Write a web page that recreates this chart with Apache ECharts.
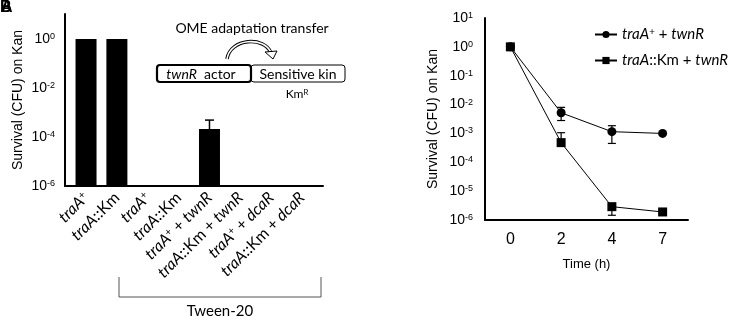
<!DOCTYPE html>
<html>
<head>
<meta charset="utf-8">
<script src="https://cdn.jsdelivr.net/npm/echarts@6/dist/echarts.min.js"></script>
<style>
html, body { margin: 0; background: #fff; }
#main { width: 736px; height: 318px; }
</style>
</head>
<body>
<div id="main"></div>
<script>
// left panel: survival of each strain (CFU on Kan)
var strains = ['traA+', 'traA::Km', 'traA+', 'traA::Km', 'traA+ + twnR', 'traA::Km + twnR', 'traA+ + dcaR', 'traA::Km + dcaR'];
var strainSurvival = [1, 1, 1e-6, 1e-6, 2.1e-4, 1e-6, 1e-6, 1e-6];
var strainErrHigh = [null, null, null, null, 4.9e-4, null, null, null];

// right panel: survival over time
var hours = ['0', '2', '4', '7'];
var wtName = 'traA+ + twnR';
var wtSurvival = [1, 5.2e-3, 1.15e-3, 1.0e-3];
var wtErrLow = [null, 2.8e-3, 4.5e-4, null];
var wtErrHigh = [null, 8.0e-3, 1.85e-3, null];
var kmName = 'traA::Km + twnR';
var kmSurvival = [1, 4.8e-4, 2.9e-6, 1.9e-6];
var kmErrLow = [null, null, 1.46e-6, null];
var kmErrHigh = [null, 1.06e-3, null, null];

var numFont = '"Liberation Sans", Arial, sans-serif';
var textFont = 'Lato, "Open Sans", sans-serif';

// italic gene names, superscript +
function richLabel(s) {
    return s.split(/(traA\+|traA|twnR|dcaR)/).filter(Boolean).map(function (p) {
        if (p === 'traA+') return '{i|traA}{s|+}';
        if (p === 'traA' || p === 'twnR' || p === 'dcaR') return '{i|' + p + '}';
        return '{n|' + p + '}';
    }).join('');
}
function labelRich(size) {
    return {
        i: { fontStyle: 'italic', fontSize: size, fontFamily: textFont, color: '#000' },
        n: { fontSize: size, fontFamily: textFont, color: '#000' },
        s: { fontSize: size * 0.65, fontFamily: textFont, color: '#000', verticalAlign: 'top', lineHeight: size * 0.7 }
    };
}
function powerLabel(value) {
    var e = Math.log10(value);
    if (Math.abs(e - Math.round(e)) > 0.01) return '';
    return '{b|10}{s|' + Math.round(e) + '}';
}
var powerRich = {
    b: { fontSize: 14, fontFamily: numFont, color: '#000' },
    s: { fontSize: 9, fontFamily: numFont, color: '#000', verticalAlign: 'top', lineHeight: 9 }
};

function errorData(values, low, high) {
    var out = [];
    values.forEach(function (v, i) {
        if (low[i] == null && high[i] == null) return;
        out.push([i, v, low[i] == null ? v : low[i], high[i] == null ? v : high[i]]);
    });
    return out;
}
function errorBar(capWidth, lw) {
    return function (params, api) {
        var v = api.value(1), lo = api.value(2), hi = api.value(3);
        var p = api.coord([api.value(0), v]);
        var pl = api.coord([api.value(0), lo]);
        var ph = api.coord([api.value(0), hi]);
        var st = { stroke: '#000', lineWidth: lw };
        var kids = [{ type: 'line', shape: { x1: p[0], y1: pl[1], x2: p[0], y2: ph[1] }, style: st }];
        if (hi !== v) kids.push({ type: 'line', shape: { x1: p[0] - capWidth / 2, y1: ph[1], x2: p[0] + capWidth / 2, y2: ph[1] }, style: st });
        if (lo !== v) kids.push({ type: 'line', shape: { x1: p[0] - capWidth / 2, y1: pl[1], x2: p[0] + capWidth / 2, y2: pl[1] }, style: st });
        return { type: 'group', children: kids };
    };
}

var axisLine = { show: true, lineStyle: { color: '#000', width: 2 } };

var chart = echarts.init(document.getElementById('main'));
chart.setOption({
    animation: false,
    grid: [
        // frame of the bar panel (axis lines run to 10^1)
        { left: 65, top: 14, width: 258, height: 172 },
        // bars, 10^0 .. 10^-6
        { left: 70.6, top: 39, width: 246.9, height: 147 },
        { left: 485, top: 18, width: 203, height: 202 }
    ],
    xAxis: [
        { gridIndex: 0, type: 'value', min: 0, max: 1, axisLine: axisLine, axisTick: { show: false }, axisLabel: { show: false }, splitLine: { show: false } },
        {
            gridIndex: 1, type: 'category', data: strains,
            axisLine: { show: false },
            axisTick: { alignWithLabel: true, length: 6, lineStyle: { color: '#000', width: 1.5 } },
            axisLabel: { rotate: 45, margin: 9, interval: 0, formatter: richLabel, rich: labelRich(16) }
        },
        {
            gridIndex: 2, type: 'category', data: hours,
            axisLine: axisLine,
            axisTick: { alignWithLabel: true, length: 7, lineStyle: { color: '#000', width: 1.5 } },
            axisLabel: { margin: 12, fontSize: 16, fontFamily: numFont, color: '#000' },
            name: 'Time (h)', nameLocation: 'middle', nameGap: 38,
            nameTextStyle: { fontSize: 13, fontFamily: numFont, color: '#000' }
        }
    ],
    yAxis: [
        {
            gridIndex: 0, type: 'log', min: 1e-6, max: 10,
            axisLine: axisLine, axisTick: { show: false }, axisLabel: { show: false },
            splitLine: { show: false },
            name: 'Survival (CFU) on Kan', nameLocation: 'middle', nameGap: 40,
            nameTextStyle: { fontSize: 14, fontFamily: numFont, color: '#000' }
        },
        {
            gridIndex: 1, type: 'log', logBase: 100, min: 1e-6, max: 1, interval: 1, startValue: 1e-6,
            offset: 5.6,
            axisLine: { show: false },
            axisTick: { length: 7, lineStyle: { color: '#000', width: 1.5 } },
            axisLabel: { margin: 10, formatter: powerLabel, rich: powerRich },
            splitLine: { show: false }
        },
        {
            gridIndex: 2, type: 'log', min: 1e-6, max: 10, interval: 1,
            axisLine: axisLine,
            axisTick: { length: 8, lineStyle: { color: '#000', width: 1.5 } },
            axisLabel: { margin: 12, formatter: powerLabel, rich: powerRich },
            splitLine: { show: false },
            name: 'Survival (CFU) on Kan', nameLocation: 'middle', nameGap: 45,
            nameTextStyle: { fontSize: 14, fontFamily: numFont, color: '#000' }
        }
    ],
    legend: {
        orient: 'vertical', left: 589, top: 22, itemWidth: 22, itemHeight: 9, itemGap: 11,
        data: [wtName, kmName],
        formatter: richLabel,
        textStyle: { fontSize: 15, rich: labelRich(15) }
    },
    series: [
        { type: 'bar', xAxisIndex: 1, yAxisIndex: 1, data: strainSurvival, barWidth: 21, itemStyle: { color: '#000' } },
        {
            type: 'custom', xAxisIndex: 1, yAxisIndex: 1, z: 1,
            data: errorData(strainSurvival, strainSurvival, strainErrHigh),
            encode: { x: 0, y: [1, 2, 3] },
            renderItem: errorBar(9, 1.5)
        },
        {
            type: 'custom', xAxisIndex: 2, yAxisIndex: 2, z: 1,
            data: errorData(wtSurvival, wtErrLow, wtErrHigh).concat(errorData(kmSurvival, kmErrLow, kmErrHigh)),
            encode: { x: 0, y: [1, 2, 3] },
            renderItem: errorBar(8, 1.2)
        },
        {
            name: wtName, type: 'line', xAxisIndex: 2, yAxisIndex: 2, z: 3, data: wtSurvival,
            symbol: 'circle', symbolSize: 9, lineStyle: { color: '#000', width: 1 }, itemStyle: { color: '#000' }
        },
        {
            name: kmName, type: 'line', xAxisIndex: 2, yAxisIndex: 2, z: 3, data: kmSurvival,
            symbol: 'rect', symbolSize: 9, lineStyle: { color: '#000', width: 1 }, itemStyle: { color: '#000' }
        }
    ],
    graphic: [
        // panel letters (overprinted)
        { type: 'text', left: 0, top: 0, style: { text: 'B', fontSize: 16, fontWeight: 'bold', fontFamily: numFont, fill: '#000' } },
        { type: 'text', left: 1, top: 0, style: { text: 'A', fontSize: 16, fontWeight: 'bold', fontFamily: numFont, fill: '#000' } },
        // inset diagram
        { type: 'text', x: 252, y: 28, style: { text: 'OME adaptation transfer', fontSize: 14, fontFamily: textFont, fill: '#000', align: 'center', verticalAlign: 'middle' } },
        { type: 'bezierCurve', shape: { x1: 227, y1: 59, cpx1: 230, cpy1: 38, cpx2: 265, cpy2: 36, x2: 271, y2: 53 }, style: { stroke: '#000', lineWidth: 3.5, fill: null } },
        { type: 'bezierCurve', shape: { x1: 227, y1: 59, cpx1: 230, cpy1: 38, cpx2: 265, cpy2: 36, x2: 271, y2: 53 }, style: { stroke: '#fff', lineWidth: 1.6, fill: null } },
        { type: 'polygon', shape: { points: [[265, 52], [277, 51], [273, 59]] }, style: { fill: '#fff', stroke: '#000', lineWidth: 1 } },
        { type: 'rect', shape: { x: 251, y: 65, width: 94, height: 17, r: 3 }, style: { fill: '#fff', stroke: '#000', lineWidth: 1 } },
        { type: 'rect', shape: { x: 157, y: 65, width: 94, height: 17, r: 3 }, style: { fill: '#fff', stroke: '#000', lineWidth: 2.2 } },
        {
            type: 'text', x: 201, y: 74,
            style: { text: '{i|twnR}{n|  actor}', align: 'center', verticalAlign: 'middle', rich: labelRich(14) }
        },
        { type: 'text', x: 298, y: 74, style: { text: 'Sensitive kin', fontSize: 14, fontFamily: textFont, fill: '#000', align: 'center', verticalAlign: 'middle' } },
        {
            type: 'text', x: 297, y: 94,
            style: { text: '{n|Km}{s|R}', align: 'center', verticalAlign: 'middle', rich: labelRich(12) }
        },
        // Tween-20 bracket
        { type: 'polyline', shape: { points: [[119, 277], [119, 297], [321, 297], [321, 277]] }, style: { stroke: '#555', lineWidth: 1, fill: null } },
        { type: 'text', x: 220, y: 311, style: { text: 'Tween-20', fontSize: 15, fontFamily: textFont, fill: '#000', align: 'center', verticalAlign: 'middle' } }
    ]
});
</script>
</body>
</html>
